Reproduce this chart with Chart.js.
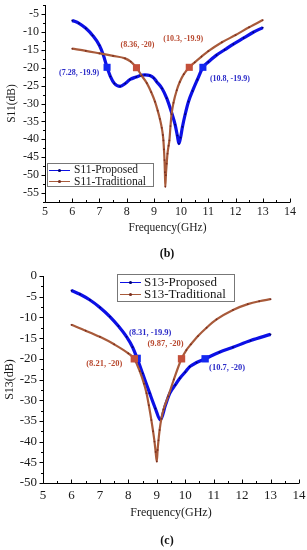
<!DOCTYPE html>
<html><head><meta charset="utf-8">
<script src="https://cdn.jsdelivr.net/npm/chart.js@4.4.1/dist/chart.umd.min.js"></script>
<style>
html,body{margin:0;padding:0;background:#fff;width:307px;height:550px;overflow:hidden;position:relative;}
#c1{position:absolute;left:0;top:0;}
#c2{position:absolute;left:0;top:260px;}
.cap{position:absolute;font:bold 12px "Liberation Serif",serif;color:#111;width:40px;height:14px;line-height:14px;text-align:center;}
</style></head><body>
<canvas id="c1" width="307" height="260"></canvas>
<canvas id="c2" width="307" height="290"></canvas>
<div class="cap" style="left:147px;top:246px">(b)</div>
<div class="cap" style="left:147px;top:533px">(c)</div>
<script>
// ---------- DATA ----------
const freqTicks = [5, 6, 7, 8, 9, 10, 11, 12, 13, 14];
const s11Ticks = [-55, -50, -45, -40, -35, -30, -25, -20, -15, -10, -5];
const s13Ticks = [-50, -45, -40, -35, -30, -25, -20, -15, -10, -5, 0];

const s11PropFreq = [6.0, 6.25, 6.5, 6.75, 7.0, 7.14, 7.28, 7.4, 7.55, 7.76, 7.95, 8.12, 8.35, 8.5, 8.67, 8.85, 9.0, 9.1, 9.3, 9.47, 9.65, 9.78, 9.86, 9.92, 9.98, 10.05, 10.15, 10.27, 10.42, 10.6, 10.8, 11.0, 11.3, 11.6, 11.92, 12.3, 12.65, 13.0];
const s11PropDb   = [-6.8, -7.6, -9.0, -11.0, -13.8, -16.4, -19.9, -22.4, -24.4, -25.2, -24.4, -23.3, -22.6, -22.2, -22.0, -22.2, -22.9, -23.9, -25.8, -28.5, -32.5, -35.9, -38.9, -41.2, -39.5, -36.5, -33.0, -29.5, -26.5, -23.3, -19.9, -18.4, -16.5, -15.0, -13.4, -11.7, -10.1, -8.8];

const s11TradFreq = [6.0, 6.5, 7.0, 7.5, 7.94, 8.15, 8.36, 8.55, 8.74, 8.9, 9.04, 9.14, 9.22, 9.29, 9.33, 9.35, 9.37, 9.39, 9.405, 9.42, 9.44, 9.47, 9.5, 9.54, 9.57, 9.61, 9.65, 9.72, 9.84, 9.95, 10.1, 10.3, 10.5, 10.75, 11.0, 11.5, 12.0, 12.5, 13.0];
const s11TradDb   = [-14.7, -15.3, -16.0, -16.7, -17.4, -18.3, -20.0, -22.2, -24.3, -26.8, -29.5, -32.0, -34.3, -36.8, -38.8, -40.3, -42.8, -45.8, -49.2, -53.2, -50.0, -46.8, -44.0, -41.8, -40.3, -36.3, -33.0, -29.8, -26.3, -24.0, -21.8, -19.9, -18.5, -16.9, -15.4, -12.9, -10.9, -8.7, -6.7];

const s13PropFreq = [6.0, 6.3, 6.65, 7.0, 7.35, 7.65, 7.94, 8.15, 8.31, 8.5, 8.75, 8.95, 9.13, 9.3, 9.46, 9.65, 9.81, 10.0, 10.16, 10.4, 10.7, 11.2, 11.68, 12.3, 13.0];
const s13PropDb   = [-3.5, -4.4, -5.8, -7.6, -9.8, -12.1, -14.7, -17.2, -19.9, -23.5, -28.3, -32.0, -34.8, -31.3, -28.3, -26.3, -24.7, -23.2, -21.9, -20.9, -20.0, -18.4, -17.2, -15.6, -14.1];

const s13TradFreq = [6.0, 6.5, 7.0, 7.5, 8.0, 8.21, 8.4, 8.55, 8.64, 8.72, 8.81, 8.87, 8.92, 8.96, 9.0, 9.03, 9.06, 9.1, 9.16, 9.24, 9.4, 9.6, 9.87, 10.04, 10.2, 10.45, 10.75, 11.1, 11.68, 12.2, 12.6, 13.0];
const s13TradDb   = [-11.8, -13.2, -14.7, -16.5, -18.7, -20.0, -23.0, -26.0, -28.3, -31.2, -34.8, -37.5, -40.0, -42.5, -44.8, -42.0, -39.7, -37.2, -34.5, -32.2, -29.1, -25.0, -20.0, -17.9, -16.5, -14.5, -12.5, -10.5, -8.2, -6.8, -6.1, -5.6];

// highlighted points
const s11PropMarkFreq = [7.28, 10.8];
const s11PropMarkDb   = [-19.9, -19.9];
const s11TradMarkFreq = [8.36, 10.3];
const s11TradMarkDb   = [-20, -19.9];
const s13PropMarkFreq = [8.31, 10.7];
const s13PropMarkDb   = [-19.9, -20];
const s13TradMarkFreq = [8.21, 9.87];
const s13TradMarkDb   = [-20, -20];

const s11Names = ['S11-Proposed', 'S11-Traditional'];
const s13Names = ['S13-Proposed', 'S13-Traditional'];

// ---------- STYLE ----------
const BLUE = '#0c10e6', BLUE_PT = '#00006e', BLUE_SQ = '#1428f0', BLUE_TXT = '#2a2ac8';
const BROWN = '#a85a3a', BROWN_PT = '#7a2e1e', BROWN_SQ = '#c4503a', BROWN_TXT = '#b8482e';
const FONT = '"Liberation Serif", "DejaVu Serif", serif';
Chart.defaults.font.family = FONT;
Chart.defaults.color = '#1a1a1a';

const pts = (fs, vs) => fs.map((f, i) => ({x: f, y: vs[i]}));

const axisPlugin = {
  id: 'axisDraw',
  afterDraw(chart, args, o) {
    const {ctx, chartArea: a} = chart;
    const xs = chart.scales.x, ys = chart.scales.y;
    ctx.save();
    ctx.strokeStyle = '#000'; ctx.lineWidth = 1;
    ctx.beginPath();
    const L = Math.round(a.left) + 0.5, B = Math.round(a.bottom) + 0.5;
    ctx.moveTo(L, Math.round(a.top)); ctx.lineTo(L, B);
    ctx.lineTo(Math.round(a.right), B);
    const steps = (mn, mx, st) => { const r = []; for (let v = mn; v <= mx + 1e-9; v += st) r.push(v); return r; };
    steps(xs.min, xs.max, o.xMinor).forEach(v => {
      const px = Math.round(xs.getPixelForValue(v)) + 0.5;
      const major = Math.abs(v - Math.round(v / o.xMajor) * o.xMajor) < 1e-6;
      ctx.moveTo(px, B); ctx.lineTo(px, B - (major ? 4 : 2.5));
    });
    steps(o.yStart, ys.max, o.yMinor).forEach(v => {
      const py = Math.round(ys.getPixelForValue(v)) + 0.5;
      const major = Math.abs(v - Math.round(v / o.yMajor) * o.yMajor) < 1e-6;
      ctx.moveTo(L, py); ctx.lineTo(L - (major ? 4 : 2.5), py);
    });
    ctx.stroke();
    ctx.restore();
  }
};

const overlayPlugin = {
  id: 'overlay',
  afterDatasetsDraw(chart, args, o) {
    const {ctx} = chart;
    const xs = chart.scales.x, ys = chart.scales.y;
    ctx.save();
    // point labels
    ctx.font = 'bold ' + o.labelSize + 'px ' + FONT;
    ctx.textAlign = 'center'; ctx.textBaseline = 'middle';
    o.labels.forEach(l => {
      ctx.fillStyle = l.color;
      ctx.fillText('(' + l.f + ', ' + l.v + ')', xs.getPixelForValue(l.f) + l.dx, ys.getPixelForValue(l.v) + l.dy);
    });
    // legend box
    const g = o.legend;
    ctx.strokeStyle = '#777'; ctx.lineWidth = 1;
    ctx.fillStyle = '#fff';
    ctx.fillRect(g.x, g.y, g.w, g.h);
    ctx.strokeRect(g.x + 0.5, g.y + 0.5, g.w, g.h);
    ctx.font = g.size + 'px ' + FONT;
    ctx.textAlign = 'left'; ctx.textBaseline = 'middle';
    g.items.forEach((it, i) => {
      const cy = g.y + g.row0 + i * g.rowH;
      ctx.strokeStyle = it.color; ctx.lineWidth = 1;
      ctx.beginPath(); ctx.moveTo(g.lx0, Math.round(cy) + 0.5); ctx.lineTo(g.lx1, Math.round(cy) + 0.5); ctx.stroke();
      ctx.fillStyle = it.pt;
      ctx.beginPath(); ctx.arc((g.lx0 + g.lx1) / 2, Math.round(cy) + 0.5, 1.6, 0, Math.PI * 2); ctx.fill();
      ctx.fillStyle = '#1a1a1a';
      ctx.fillText(it.text, g.tx, cy + 0.5);
    });
    ctx.restore();
  }
};

function build(id, c) {
  return new Chart(document.getElementById(id), {
    type: 'line',
    data: {
      datasets: [
        {data: pts(c.tradMarkF, c.tradMarkV), showLine: false, pointStyle: 'rect', pointRadius: c.sq, backgroundColor: BROWN_SQ, borderColor: BROWN_SQ, borderWidth: 0, order: 0},
        {data: pts(c.propMarkF, c.propMarkV), showLine: false, pointStyle: 'rect', pointRadius: c.sq, backgroundColor: BLUE_SQ, borderColor: BLUE_SQ, borderWidth: 0, order: 0},
        {data: pts(c.tradF, c.tradV), borderColor: BROWN, borderWidth: 2.2, pointRadius: 0.9, pointBackgroundColor: BROWN_PT, pointBorderWidth: 0, cubicInterpolationMode: 'monotone', order: 1},
        {data: pts(c.propF, c.propV), borderColor: BLUE, borderWidth: 3.2, pointRadius: 0.9, pointBackgroundColor: BLUE_PT, pointBorderWidth: 0, cubicInterpolationMode: 'monotone', order: 2}
      ]
    },
    options: {
      responsive: false, animation: false, devicePixelRatio: 1,
      layout: {padding: c.pad},
      plugins: {legend: {display: false}, tooltip: {enabled: false},
        axisDraw: c.axis, overlay: c.overlay},
      scales: {
        x: {type: 'linear', min: 5, max: 14,
          afterBuildTicks: s => { s.ticks = freqTicks.map(v => ({value: v})); },
          afterFit: s => { s.height = c.xH; s.paddingLeft = 0; s.paddingRight = 0; },
          grid: {display: false, drawTicks: false}, border: {display: false},
          ticks: {autoSkip: false, maxRotation: 0, padding: c.xPad, font: {size: c.tick}, color: '#1a1a1a'},
          title: {display: true, text: 'Frequency(GHz)', font: {size: c.title}, padding: {top: 0, bottom: c.xTitlePad}, color: '#1a1a1a'}
        },
        y: {type: 'linear', min: c.ymin, max: c.ymax,
          afterBuildTicks: s => { s.ticks = c.yTicks.map(v => ({value: v})); },
          afterFit: s => { s.width = c.yW; s.paddingTop = 0; s.paddingBottom = 0; },
          grid: {display: false, drawTicks: false}, border: {display: false},
          ticks: {autoSkip: false, padding: c.yPad, font: {size: c.tick}, color: '#1a1a1a'},
          title: {display: true, text: c.yTitle, font: {size: c.title}, padding: {top: c.yTitlePad, bottom: 0}, color: '#1a1a1a'}
        }
      }
    },
    plugins: [axisPlugin, overlayPlugin]
  });
}

build('c1', {
  propF: s11PropFreq, propV: s11PropDb, tradF: s11TradFreq, tradV: s11TradDb,
  propMarkF: s11PropMarkFreq, propMarkV: s11PropMarkDb, tradMarkF: s11TradMarkFreq, tradMarkV: s11TradMarkDb,
  yTicks: s11Ticks, ymin: -57.5, ymax: -2.5, yTitle: 'S11(dB)', sq: 5,
  pad: {left: 0, right: 17, top: 3, bottom: 20}, xH: 38, yW: 45,
  tick: 12, title: 11.5, xPad: 3, yPad: 6, xTitlePad: 5, yTitlePad: 5,
  axis: {xMinor: 0.5, xMajor: 1, yMinor: 2.5, yMajor: 5, yStart: -57.5},
  overlay: {
    labelSize: 8,
    labels: [
      {f: s11PropMarkFreq[0], v: s11PropMarkDb[0], dx: -28, dy: 6, color: BLUE_TXT},
      {f: s11PropMarkFreq[1], v: s11PropMarkDb[1], dx: 27, dy: 12, color: BLUE_TXT},
      {f: s11TradMarkFreq[0], v: s11TradMarkDb[0], dx: 1, dy: -23, color: BROWN_TXT},
      {f: s11TradMarkFreq[1], v: s11TradMarkDb[1], dx: -6, dy: -28, color: BROWN_TXT}
    ],
    legend: {x: 47, y: 163, w: 106, h: 23, row0: 6.5, rowH: 11.5, lx0: 49, lx1: 70, tx: 74, size: 11.5,
      items: [{text: s11Names[0], color: BLUE, pt: BLUE_PT}, {text: s11Names[1], color: BROWN, pt: BROWN_PT}]}
  }
});

build('c2', {
  propF: s13PropFreq, propV: s13PropDb, tradF: s13TradFreq, tradV: s13TradDb,
  propMarkF: s13PropMarkFreq, propMarkV: s13PropMarkDb, tradMarkF: s13TradMarkFreq, tradMarkV: s13TradMarkDb,
  yTicks: s13Ticks, ymin: -50, ymax: 0, yTitle: 'S13(dB)', sq: 5.2,
  pad: {left: 0, right: 8, top: 16, bottom: 20}, xH: 47, yW: 43,
  tick: 13, title: 12, xPad: 5, yPad: 6, xTitlePad: 10, yTitlePad: 3,
  axis: {xMinor: 0.5, xMajor: 1, yMinor: 2.5, yMajor: 5, yStart: -50},
  overlay: {
    labelSize: 8.5,
    labels: [
      {f: s13PropMarkFreq[0], v: s13PropMarkDb[0], dx: 13, dy: -26, color: BLUE_TXT},
      {f: s13PropMarkFreq[1], v: s13PropMarkDb[1], dx: 22, dy: 9, color: BLUE_TXT},
      {f: s13TradMarkFreq[0], v: s13TradMarkDb[0], dx: -30, dy: 5, color: BROWN_TXT},
      {f: s13TradMarkFreq[1], v: s13TradMarkDb[1], dx: -16, dy: -15, color: BROWN_TXT}
    ],
    legend: {x: 117, y: 14, w: 117, h: 27, row0: 8.3, rowH: 11.7, lx0: 120, lx1: 141, tx: 144, size: 13,
      items: [{text: s13Names[0], color: BLUE, pt: BLUE_PT}, {text: s13Names[1], color: BROWN, pt: BROWN_PT}]}
  }
});
</script>
</body></html>
